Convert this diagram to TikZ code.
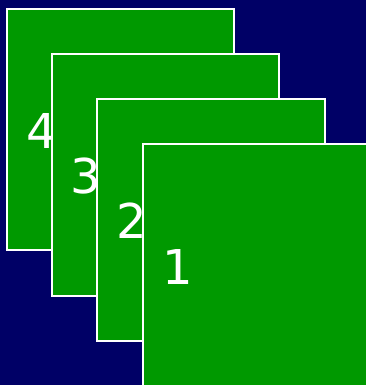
\documentclass[tikz,border=0pt]{standalone}
\usepackage{fontspec}
\setmainfont{DejaVu Sans}
\definecolor{navy}{RGB}{0,0,102}
\definecolor{sheet}{RGB}{0,153,0}
\begin{document}
\begin{tikzpicture}[x=1pt,y=-1pt,
  sheetbox/.style={fill=sheet,draw=white,line width=1.6pt},
  num/.style={text=white,font=\fontsize{48}{48}\selectfont,inner sep=0pt,anchor=center}]
\fill[navy] (0,0) rectangle (366,385);
\useasboundingbox (0,0) rectangle (366,385);
\begin{scope}
\clip (0,0) rectangle (366,385);
\draw[sheetbox] (7,9) rectangle (234,250);
\node[num] (n4) at (41.5,131) {4};
\draw[sheetbox] (52,54) rectangle (279,296);
\node[num] (n3) at (86,176) {3};
\draw[sheetbox] (97,99) rectangle (325,341);
\node[num] (n2) at (132,221) {2};
\draw[sheetbox] (143,144) rectangle (372,392);
\node[num] (n1) at (177.5,267) {1};
\end{scope}
\end{tikzpicture}
\end{document}
